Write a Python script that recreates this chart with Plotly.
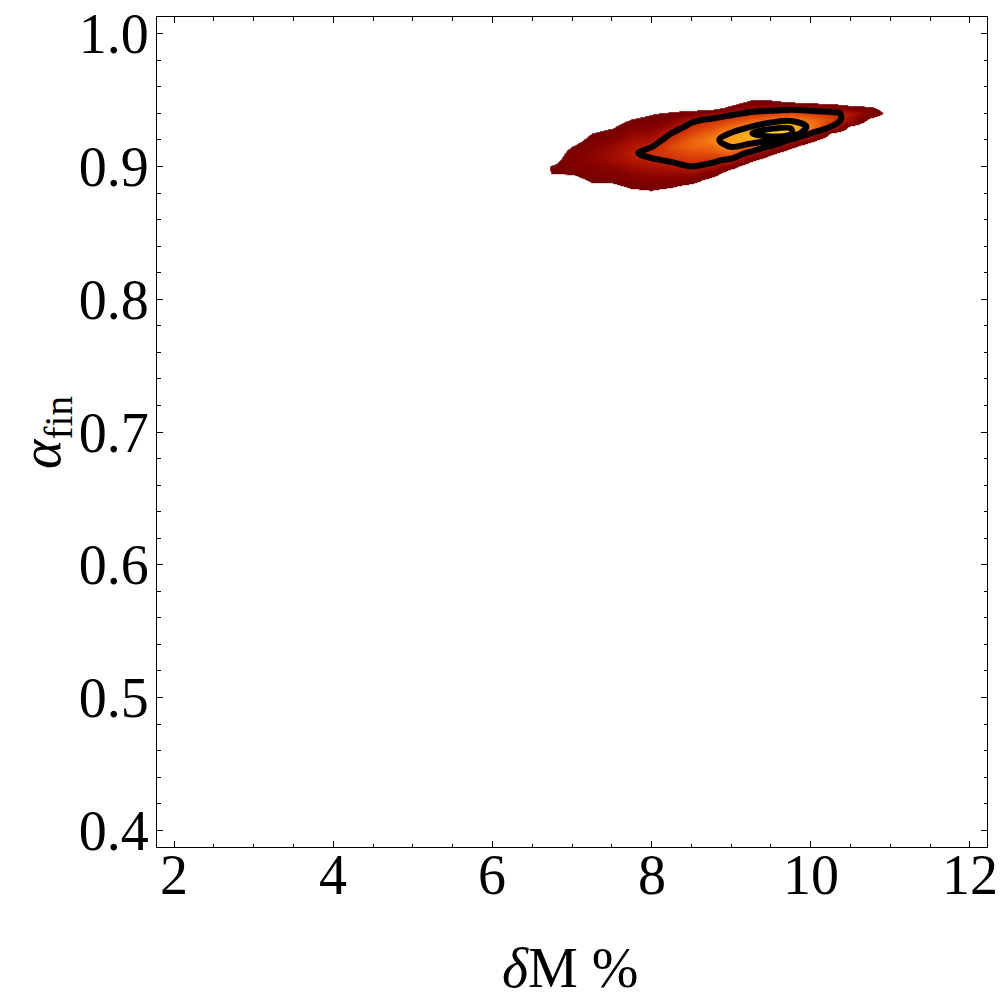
import plotly.graph_objects as go

# grid of the smoothed density (arbitrary units, 0-100)
dm_grid = [6.5, 6.75, 7.0, 7.25, 7.5, 7.75, 8.0, 8.25, 8.5, 8.75,
           9.0, 9.25, 9.5, 9.75, 10.0, 10.25, 10.5, 10.75, 11.0]
alpha_grid = [0.875, 0.880, 0.885, 0.890, 0.895, 0.900, 0.905, 0.910, 0.915,
              0.920, 0.925, 0.930, 0.935, 0.940, 0.945, 0.950, 0.955]
density = [
    [0, 0, 0, 0, 0, 2, 3, 0.5, 0, 0, 0, 0, 0, 0, 0, 0, 0, 0, 0],
    [0, 0, 0, 2, 2, 6, 8, 4.7, 0, 0, 0, 0, 0, 0, 0, 0, 0, 0, 0],
    [0, 1, 1, 7, 7, 12, 13, 11.3, 6.2, 0, 0, 0, 0, 0, 0, 0, 0, 0, 0],
    [1, 4, 5, 12, 12.5, 17, 18, 17.9, 15.8, 5, 0, 0, 0, 0, 0, 0, 0, 0, 0],
    [4, 10.5, 11, 16, 17.5, 22, 23.5, 24.5, 25.4, 17.5, 1, 0, 0, 0, 0, 0, 0, 0, 0],
    [3, 11, 16, 19.5, 22, 27, 28.5, 31, 35, 30, 16.2, 0, 0, 0, 0, 0, 0, 0, 0],
    [1, 5, 18, 22, 26, 31, 33.5, 37, 40.3, 39.4, 31.9, 13, 0, 0, 0, 0, 0, 0, 0],
    [0, 1, 15.5, 21.5, 27, 33, 39, 42, 45.6, 46.8, 50, 28.8, 13.6, 0, 0, 0, 0, 0, 0],
    [0, 0, 10, 19, 24, 31, 34.5, 45, 52.5, 54.2, 66, 53, 31.4, 14.5, 0, 0, 0, 0, 0],
    [0, 0, 4, 15, 20, 27.5, 29.5, 40, 51, 61, 71, 79, 70, 31.6, 14.2, 0, 0, 0, 0],
    [0, 0, 1, 10, 14.5, 23, 24.5, 35, 44.5, 52.9, 66, 84, 100, 90, 35, 10, 0, 0, 0],
    [0, 0, 0, 5, 9, 17.5, 19, 27.2, 39.2, 45.5, 55.8, 65, 77.5, 83, 60, 35, 7, 0, 0],
    [0, 0, 0, 1, 4, 11, 14, 19.4, 31.9, 38.1, 44.2, 51.4, 57.1, 61.7, 55, 44, 26, 6, 0],
    [0, 0, 0, 0, 1, 5, 9, 11.6, 16.2, 22.5, 31.4, 37.7, 41.3, 45, 41.8, 38.7, 31, 19, 5],
    [0, 0, 0, 0, 0, 1, 4, 3.8, 2, 1.7, 13.6, 23.9, 25.6, 26.2, 25, 20, 13, 11, 4],
    [0, 0, 0, 0, 0, 0, 1, 0, 0, 0, 0, 10.5, 10, 4.3, 0, 0, 0, 0, 0],
    [0, 0, 0, 0, 0, 0, 0, 0, 0, 0, 0, 0, 0, 0, 0, 0, 0, 0, 0],
]
x_ticks = [2, 4, 6, 8, 10, 12]
x_ticklabels = ["2", "4", "6", "8", "10", "12"]

# density colours: white below the cut, then dark red -> orange -> yellow
sunset = [
    [0.0, "#ffffff"], [0.099, "#ffffff"],
    [0.1, "#730000"], [0.2, "#860200"], [0.3, "#ac1302"],
    [0.4, "#d43608"], [0.5, "#ea5c0e"], [0.6, "#f47f14"],
    [0.7, "#f8a018"], [0.85, "#fbb81c"], [1.0, "#ffe040"],
]

fig = go.Figure()
fig.add_trace(go.Heatmap(
    x=dm_grid, y=alpha_grid, z=density,
    zmin=0, zmax=100, zsmooth="best",
    colorscale=sunset, showscale=False, hoverinfo="skip",
))
# black contour lines (35 & 85, then 65)
for start, end, size in [(35, 85, 50), (65, 165, 100)]:
    fig.add_trace(go.Contour(
        x=dm_grid, y=alpha_grid, z=density,
        autocontour=False,
        contours=dict(coloring="none", start=start, end=end, size=size),
        line=dict(color="black", width=6, smoothing=1.0),
        showscale=False, hoverinfo="skip",
    ))

axis_style = dict(
    ticks="inside", ticklen=6, tickwidth=1, tickcolor="black",
    showline=True, linecolor="black", linewidth=1, mirror="allticks",
    showgrid=False, zeroline=False, automargin=False,
    ticklabeloverflow="allow",
    tickfont=dict(family="Liberation Serif", size=56, color="black"),
)
fig.update_xaxes(
    range=[1.786, 12.214], tickvals=x_ticks, showticklabels=False,
    minor=dict(dtick=0.5, ticks="inside", ticklen=3.5, tickcolor="black", tickwidth=1),
    **axis_style,
)
fig.update_yaxes(
    range=[0.3874, 1.0126], tick0=0, dtick=0.1, tickformat=".1f",
    ticklabelstandoff=-4,
    minor=dict(dtick=0.02, ticks="inside", ticklen=3.5, tickcolor="black", tickwidth=1),
    **axis_style,
)

text_font = dict(family="Liberation Serif", size=56, color="black")
# x tick labels sit a little closer to the frame than plotly puts them
for xv, lab in zip(x_ticks, x_ticklabels):
    fig.add_annotation(text=lab, x=xv, xref="x", y=0.006, yref="paper",
                       xanchor="center", yanchor="top", showarrow=False,
                       font=text_font)
fig.add_annotation(text="<i>δ</i>M %", xref="paper", yref="paper",
                   x=0.497, y=-0.106, xanchor="center", yanchor="top",
                   showarrow=False, font=text_font)
fig.add_annotation(text="<i>α</i><sub>fin</sub>", xref="paper", yref="paper",
                   x=-0.135, y=0.5, xanchor="center", yanchor="middle",
                   textangle=-90, showarrow=False, font=text_font)

fig.update_layout(
    width=1000, height=1005,
    margin=dict(l=157, r=13, t=17, b=158),
    paper_bgcolor="white", plot_bgcolor="white",
    font=dict(family="Liberation Serif", size=56, color="black"),
    showlegend=False,
)
# drop the page body's default 8 px margin so the figure fills the window
fig.write_html("out.html", config={"displayModeBar": False},
               post_script="document.body.style.margin = '0';")
